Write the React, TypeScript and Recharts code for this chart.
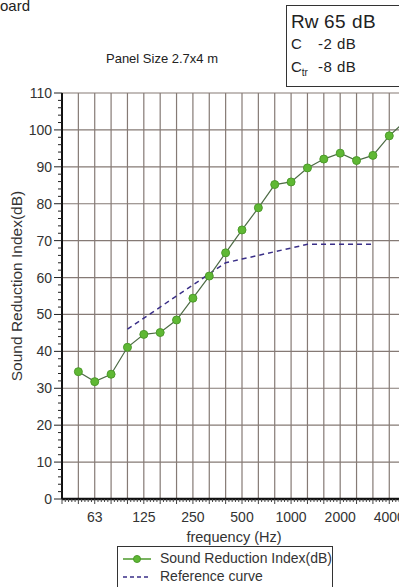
import { LineChart, Line, XAxis, YAxis, CartesianGrid } from 'recharts';

// third-octave bands, 50 Hz .. 5000 Hz
const bands = ['50', '63', '80', '100', '125', '160', '200', '250', '315', '400', '500', '630', '800', '1000', '1250', '1600', '2000', '2500', '3150', '4000', '5000'];
const octaveLabels = ['63', '125', '250', '500', '1000', '2000', '4000'];
const soundReduction = [34.5, 31.8, 33.8, 41.1, 44.6, 45.1, 48.5, 54.4, 60.4, 66.7, 72.9, 78.9, 85.2, 85.9, 89.7, 92.1, 93.7, 91.7, 93.1, 98.4, 102.5];
const referenceCurve = [null, null, null, 46, 49, 52, 55, 58, 61, 64, 65, 66, 67, 68, 69, 69, 69, 69, 69, null, null];
const yMajor = [0, 10, 20, 30, 40, 50, 60, 70, 80, 90, 100, 110];

const data = bands.map((f, i) => ({ idx: i, freq: f, sri: soundReduction[i], ref: referenceCurve[i] }));
const bandIdx = bands.map((_, i) => i);

// minor ticks: y every 2 dB, x five per band
const yTicks = Array.from({ length: 56 }, (_, k) => k * 2);
const xTicks = Array.from({ length: 111 }, (_, k) => Math.round((-1 + k * 0.2) * 10) / 10);

const font = '"Liberation Sans", Arial, sans-serif';

function YTick({ x, y, payload }: any) {
  const major = payload.value % 10 === 0;
  return (
    <g>
      <line x1={x - (major ? 8 : 4)} x2={x} y1={y} y2={y} stroke="#222" strokeWidth={1} />
      {major && (
        <text x={x - 10} y={y} dy={5} textAnchor="end" fontSize={14} fill="#333" fontFamily={font}>
          {payload.value}
        </text>
      )}
    </g>
  );
}

function XTick({ x, y, payload }: any) {
  const v = payload.value;
  const whole = Math.abs(v - Math.round(v)) < 0.01;
  const label = whole && octaveLabels.includes(bands[Math.round(v)]) ? bands[Math.round(v)] : null;
  return (
    <g>
      <line x1={x} x2={x} y1={y} y2={y + (whole ? 5 : 3)} stroke="#444" strokeWidth={1} />
      {label && (
        <text x={x} y={y} dy={23} textAnchor="middle" fontSize={14} fill="#333" fontFamily={font}>
          {label}
        </text>
      )}
    </g>
  );
}

export default function App() {
  return (
    <div style={{ position: 'fixed', left: 0, top: 0, width: 399, height: 587, overflow: 'hidden', background: '#fff', fontFamily: font, color: '#222' }}>
      <div style={{ position: 'absolute', left: -10, top: -3, fontSize: 15 }}>Board</div>
      <div style={{ position: 'absolute', left: 162, top: 58, transform: 'translate(-50%, -50%)', fontSize: 13, whiteSpace: 'nowrap' }}>
        Panel Size 2.7x4 m
      </div>
      <div style={{ position: 'absolute', left: 286, top: 5, width: 140, height: 82, border: '1px solid #333', boxSizing: 'border-box' }}>
        <div style={{ position: 'absolute', left: 4, top: 5, fontSize: 19 }}>Rw</div>
        <div style={{ position: 'absolute', left: 37, top: 5, fontSize: 19, letterSpacing: 0.5 }}>65 dB</div>
        <div style={{ position: 'absolute', left: 4, top: 29, fontSize: 15 }}>C</div>
        <div style={{ position: 'absolute', left: 31, top: 29, fontSize: 15, letterSpacing: 0.5 }}>-2 dB</div>
        <div style={{ position: 'absolute', left: 4, top: 52, fontSize: 15 }}>
          C<sub style={{ fontSize: 10 }}>tr</sub>
        </div>
        <div style={{ position: 'absolute', left: 31, top: 52, fontSize: 15, letterSpacing: 0.5 }}>-8 dB</div>
      </div>
      <div
        style={{ position: 'absolute', left: 17, top: 286, transform: 'translate(-50%, -50%) rotate(-90deg)', fontSize: 15.5, whiteSpace: 'nowrap', color: '#333' }}
      >
        Sound Reduction Index(dB)
      </div>
      <div style={{ position: 'absolute', left: 234, top: 537, transform: 'translate(-50%, -50%)', fontSize: 14.5, whiteSpace: 'nowrap', color: '#333' }}>
        frequency (Hz)
      </div>
      <div style={{ position: 'absolute', left: 0, top: 0 }}>
        <LineChart width={436} height={587} data={data} margin={{ top: 93, right: 14, bottom: 48, left: 0 }}>
          <CartesianGrid stroke="#857a75" strokeWidth={1.2} verticalValues={bandIdx} horizontalValues={yMajor} />
          <XAxis
            dataKey="idx"
            type="number"
            domain={[-1, 21]}
            ticks={xTicks}
            interval={0}
            height={40}
            tickSize={0}
            tickMargin={0}
            tickLine={false}
            tick={<XTick />}
            axisLine={{ stroke: '#111', strokeWidth: 2.5 }}
          />
          <YAxis
            type="number"
            domain={[0, 110]}
            ticks={yTicks}
            interval={0}
            width={62}
            tickSize={0}
            tickMargin={0}
            tickLine={false}
            tick={<YTick />}
            axisLine={{ stroke: '#111', strokeWidth: 2 }}
          />
          <Line
            dataKey="ref"
            stroke="#3a2f88"
            strokeWidth={1.5}
            strokeDasharray="5 4"
            dot={false}
            isAnimationActive={false}
          />
          <Line
            dataKey="sri"
            stroke="#4d6b45"
            strokeWidth={1.2}
            dot={{ r: 4, fill: '#5fb834', stroke: '#4c9a2b', strokeWidth: 1 }}
            isAnimationActive={false}
          />
        </LineChart>
      </div>
      <div style={{ position: 'absolute', left: 117, top: 546, width: 216, height: 44, border: '1px solid #333', boxSizing: 'border-box', fontSize: 14, color: '#333' }}>
        <svg width={30} height={10} style={{ position: 'absolute', left: 5, top: 7 }}>
          <line x1={0} x2={28} y1={5} y2={5} stroke="#4d9a2b" strokeWidth={1.5} />
          <circle cx={14} cy={5} r={3.5} fill="#5fb834" stroke="#4c9a2b" />
        </svg>
        <div style={{ position: 'absolute', left: 42, top: 3, whiteSpace: 'nowrap' }}>Sound Reduction Index(dB)</div>
        <svg width={30} height={10} style={{ position: 'absolute', left: 5, top: 25 }}>
          <line x1={0} x2={28} y1={5} y2={5} stroke="#3a2f88" strokeWidth={1.5} strokeDasharray="4 3" />
        </svg>
        <div style={{ position: 'absolute', left: 42, top: 21, whiteSpace: 'nowrap' }}>Reference curve</div>
      </div>
    </div>
  );
}
